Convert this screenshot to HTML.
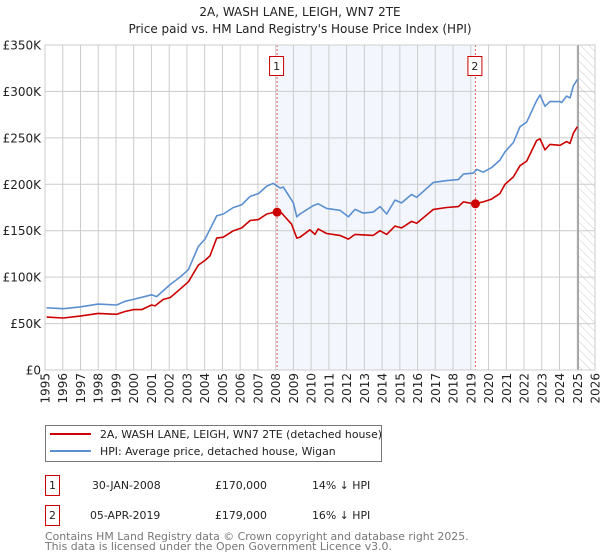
<!DOCTYPE html>
<html><head><meta charset="utf-8"><style>
body{margin:0;background:#fff;font-family:"DejaVu Sans","Liberation Sans",sans-serif}
svg{display:block}
</style></head><body>
<svg id="c" width="600" height="560" font-family="DejaVu Sans, Liberation Sans, sans-serif">
<defs><pattern id="hatch" width="6" height="6" patternUnits="userSpaceOnUse" patternTransform="rotate(-45)"><line x1="0" y1="0" x2="0" y2="6" stroke="#ccc" stroke-width="1"/></pattern></defs>
<text x="300" y="16" text-anchor="middle" font-size="12" fill="#222">2A, WASH LANE, LEIGH, WN7 2TE</text>
<text x="300" y="33" text-anchor="middle" font-size="12" fill="#222">Price paid vs. HM Land Registry's House Price Index (HPI)</text>
<g id="plot"></g>
<rect x="45.5" y="425.5" width="336" height="36" fill="#fff" stroke="#777"/>
<line x1="50" y1="434" x2="91" y2="434" stroke="#cc0000" stroke-width="2"/>
<text x="100" y="438" font-size="10.9" fill="#222">2A, WASH LANE, LEIGH, WN7 2TE (detached house)</text>
<line x1="50" y1="451" x2="91" y2="451" stroke="#5b8fd0" stroke-width="2"/>
<text x="100" y="455" font-size="10.9" fill="#222">HPI: Average price, detached house, Wigan</text>
<g font-size="10.9" fill="#222">
<rect x="45.5" y="475.5" width="14" height="20" fill="#fff" stroke="#cc0000"/><text x="52.5" y="489" text-anchor="middle">1</text>
<text x="92" y="489">30-JAN-2008</text><text x="215" y="489">£170,000</text><text x="312" y="489">14% ↓ HPI</text>
<rect x="45.5" y="505.5" width="14" height="20" fill="#fff" stroke="#cc0000"/><text x="52.5" y="519" text-anchor="middle">2</text>
<text x="90" y="519">05-APR-2019</text><text x="215" y="519">£179,000</text><text x="312" y="519">16% ↓ HPI</text>
</g>
<text x="45" y="540" font-size="10.9" fill="#777">Contains HM Land Registry data © Crown copyright and database right 2025.</text>
<text x="45" y="550" font-size="10.9" fill="#777">This data is licensed under the Open Government Licence v3.0.</text>
</svg>
<script>
const hpiYears=[1995.09,1996.03,1996.97,1998.0,1999.04,1999.51,1999.98,2001.01,2001.29,2002.05,2002.61,2003.08,2003.64,2004.02,2004.68,2005.05,2005.62,2006.09,2006.56,2007.03,2007.5,2007.87,2008.25,2008.43,2009.0,2009.19,2009.37,2010.12,2010.4,2010.87,2011.62,2012.1,2012.47,2012.94,2013.5,2013.88,2014.26,2014.73,2015.1,2015.66,2015.95,2016.89,2017.64,2018.3,2018.58,2019.14,2019.33,2019.7,2020.17,2020.64,2020.93,2021.4,2021.77,2022.15,2022.71,2022.9,2023.18,2023.46,2024.03,2024.12,2024.4,2024.59,2024.78,2025.0];
const hpiValues=[67,66,68,71,70,74,76,81,79,92,100,108,133,141,166,168,175,178,187,190,198,201,196,197,180,165,168,177,179,174,172,165,173,169,170,176,168,183,180,189,186,202,204,205,211,212,216,213,218,226,235,245,262,267,290,296,284,289,289,288,295,293,306,313];
const ppYears=[1995.09,1996.03,1996.97,1998.0,1999.04,1999.51,1999.98,2000.45,2001.01,2001.2,2001.67,2002.05,2002.61,2003.08,2003.64,2004.02,2004.3,2004.68,2005.05,2005.62,2006.09,2006.56,2007.03,2007.5,2007.97,2008.34,2008.9,2009.19,2009.37,2009.93,2010.22,2010.4,2010.87,2011.62,2012.1,2012.47,2013.5,2013.88,2014.26,2014.73,2015.1,2015.66,2015.95,2016.89,2017.64,2018.3,2018.58,2019.18,2019.7,2020.17,2020.64,2020.93,2021.4,2021.77,2022.15,2022.71,2022.9,2023.18,2023.46,2024.03,2024.4,2024.59,2024.78,2025.0];
const ppValues=[57,56,58,61,60,63,65,65,70,69,76,78,87,95,113,118,123,142,143,150,153,161,162,168,170,169,157,142,143,151,146,152,147,145,141,146,145,150,146,155,153,160,158,173,175,176,181,179,181,184,190,200,208,220,225,247,249,237,243,242,246,244,255,262];
const saleYears=[2008.08,2019.26];
const saleValues=[170,179];
const saleLabels=["1","2"];
const yTicks=[0,50,100,150,200,250,300,350];
const yTickLabels=["£0","£50K","£100K","£150K","£200K","£250K","£300K","£350K"];
const xTicks=[1995,1996,1997,1998,1999,2000,2001,2002,2003,2004,2005,2006,2007,2008,2009,2010,2011,2012,2013,2014,2015,2016,2017,2018,2019,2020,2021,2022,2023,2024,2025,2026];

const L=45,R=595,T=45,B=370;
const x=y=>L+(y-1995)*(R-L)/31;
const yy=v=>B-v*(B-T)/350;
const NS="http://www.w3.org/2000/svg";
const g=document.getElementById('plot');
function mk(tag,attrs,parent){const e=document.createElementNS(NS,tag);for(const k in attrs)e.setAttribute(k,attrs[k]);(parent||g).appendChild(e);return e;}
let e;
e=mk('rect',{x:x(saleYears[0]),y:T,width:x(saleYears[1])-x(saleYears[0]),height:B-T,fill:'#eef3fc',opacity:0.7});


e=mk('rect',{x:x(2025.05),y:T,width:R-x(2025.05),height:B-T,fill:'url(#hatch)'});


xTicks.forEach(t=>{
 e=mk('line',{x1:x(t),y1:T,x2:x(t),y2:B,stroke:'#ccc'});
 
 
 e=mk('text',{x:0,y:0,transform:`translate(${x(t)+4.5},${B+3}) rotate(-90)`,'text-anchor':'end','font-size':12,fill:'#222'});
 e.textContent=t;
 
 
});
yTicks.forEach((t,i)=>{
 e=mk('line',{x1:L,y1:yy(t),x2:R,y2:yy(t),stroke:'#ccc'});
 
 
 e=mk('text',{x:L-4,y:yy(t)+4.5,'text-anchor':'end','font-size':12,fill:'#222'});
 e.textContent=yTickLabels[i];
 
 
});
e=mk('line',{x1:x(2025.05),y1:T,x2:x(2025.05),y2:B,stroke:'#999','stroke-width':1.5});


saleYears.forEach((s,i)=>{
 e=mk('line',{x1:x(s),y1:T,x2:x(s),y2:B,stroke:'#e06060','stroke-dasharray':'2,2'});
 
 
 e=mk('rect',{x:x(s)-7.5,y:56.5,width:14,height:19,fill:'#fff',stroke:'#cc0000'});
 
 
 e=mk('text',{x:x(s)-0.5,y:70,'text-anchor':'middle','font-size':11,fill:'#222'});
 e.textContent=saleLabels[i];
 
 
});
function line(xs,vs,col,name){
 const p=mk('polyline',{points:xs.map((a,i)=>x(a).toFixed(1)+','+yy(vs[i]).toFixed(1)).join(' '),fill:'none',stroke:col,'stroke-width':1.6,'stroke-linejoin':'round'});
 
 
}
line(hpiYears,hpiValues,'#5b8fd0','hpi-line');
line(ppYears,ppValues,'#cc0000','property-line');
saleYears.forEach((s,i)=>{
 e=mk('circle',{cx:x(s),cy:yy(saleValues[i]),r:4.5,fill:'#cc0000'});
 
 
});
e=mk('rect',{x:L,y:T,width:R-L,height:B-T,fill:'none',stroke:'#ccc'});


</script>
</body></html>
